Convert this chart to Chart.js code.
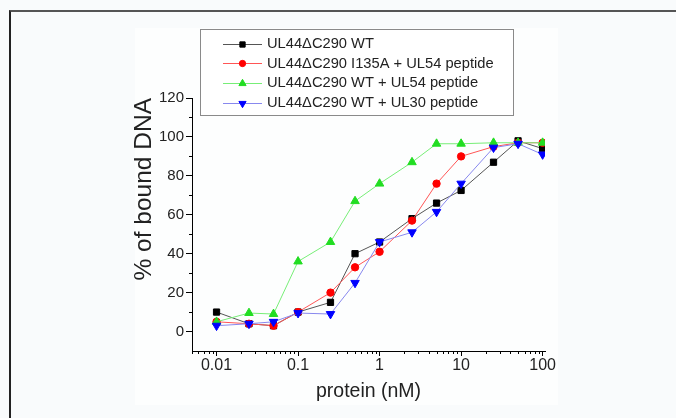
<!DOCTYPE html>
<html>
<head>
<meta charset="utf-8">
<script src="https://cdn.jsdelivr.net/npm/chart.js@4.4.1/dist/chart.umd.min.js"></script>
<style>
  html, body { margin: 0; padding: 0; }
  body { width: 676px; height: 418px; background: #f9fbfc; position: relative; overflow: hidden; }
  #frame { position: absolute; left: 9px; top: 10px; right: -4px; bottom: -4px; border-top: 2px solid #555; border-left: 2px solid #222; }
  #panel { position: absolute; left: 135px; top: 28px; width: 423px; height: 377px; background: #fdfefe; }
  #c { position: absolute; left: 0; top: 0; }
</style>
</head>
<body>
<div id="frame"></div>
<div id="panel"></div>
<canvas id="c" width="676" height="418"></canvas>
<script>
// ---- data ----
const doses = [0.01, 0.025, 0.05, 0.1, 0.25, 0.5, 1, 2.5, 5, 10, 25, 50, 100];
const seriesNames = [
  'UL44\u0394C290 WT',
  'UL44\u0394C290 I135A + UL54 peptide',
  'UL44\u0394C290 WT + UL54 peptide',
  'UL44\u0394C290 WT + UL30 peptide'
];
const wt        = [10, 4, 3, 10, 15, 40, 46, 58, 66, 72.5, 87, 98, 94];
const i135aUL54 = [5, 4, 3, 10, 20, 33, 41, 57, 76, 90, 95, 97, 97];
const wtUL54    = [5, 9.5, 9, 36, 46, 67, 76, 87, 96.5, 96.5, 97, 97, 97];
const wtUL30    = [3, 4, 5, 9.5, 9, 25, 46, 51, 61.5, 76, 94.5, 96.5, 91];
const xMajorTicks = [0.01, 0.1, 1, 10, 100];
const xTickLabels = ['0.01', '0.1', '1', '10', '100'];
const yMajorTicks = [0, 20, 40, 60, 80, 100, 120];
const yMinorTicks = [10, 30, 50, 70, 90, 110];
const xMinorTicks = [0.005, 0.006, 0.007, 0.008, 0.009,
  0.02, 0.03, 0.04, 0.05, 0.06, 0.07, 0.08, 0.09,
  0.2, 0.3, 0.4, 0.5, 0.6, 0.7, 0.8, 0.9,
  2, 3, 4, 5, 6, 7, 8, 9,
  20, 30, 40, 50, 60, 70, 80, 90];

const FONT = "'Liberation Sans', Arial, sans-serif";
const TXT = '#222';

const styles = [
  { line: '#555555', mark: '#000000', pointStyle: 'rect', radius: 4.4, rot: 0, order: 4 },
  { line: '#ff5555', mark: '#ff0000', pointStyle: 'circle', radius: 3.7, rot: 0, order: 3 },
  { line: '#77ee77', mark: '#22dd22', pointStyle: 'triangle', radius: 4.9, rot: 0, order: 2 },
  { line: '#8888ee', mark: '#0000ff', pointStyle: 'triangle', radius: 4.9, rot: 180, order: 1 }
];
const values = [wt, i135aUL54, wtUL54, wtUL30];

const datasets = values.map((vals, i) => ({
  label: seriesNames[i],
  data: doses.map((d, j) => ({ x: d, y: vals[j] })),
  borderColor: styles[i].line,
  borderWidth: 1,
  backgroundColor: styles[i].mark,
  pointBackgroundColor: styles[i].mark,
  pointBorderColor: styles[i].mark,
  pointBorderWidth: 1,
  pointStyle: styles[i].pointStyle,
  pointRadius: styles[i].radius,
  pointRotation: styles[i].rot,
  tension: 0,
  fill: false,
  order: styles[i].order
}));

const extrasPlugin = {
  id: 'extras',
  afterDraw(chart) {
    const ctx = chart.ctx;
    const xs = chart.scales.x, ys = chart.scales.y;
    const area = chart.chartArea;
    ctx.save();
    ctx.strokeStyle = '#000';
    ctx.lineWidth = 1;
    // minor ticks
    ctx.beginPath();
    xMinorTicks.forEach(v => {
      const px = Math.round(xs.getPixelForValue(v)) + 0.5;
      ctx.moveTo(px, area.bottom);
      ctx.lineTo(px, area.bottom + 3);
    });
    yMinorTicks.forEach(v => {
      const py = Math.round(ys.getPixelForValue(v)) + 0.5;
      ctx.moveTo(area.left - 3, py);
      ctx.lineTo(area.left, py);
    });
    ctx.stroke();

    // legend box
    const bx = 200.5, by = 29.5, bw = 313, bh = 86;
    ctx.fillStyle = '#ffffff';
    ctx.fillRect(bx, by, bw, bh);
    ctx.strokeStyle = '#8a8a8a';
    ctx.strokeRect(bx, by, bw, bh);
    ctx.font = '14.7px ' + FONT;
    ctx.textBaseline = 'middle';
    ctx.textAlign = 'left';
    chart.data.datasets.forEach((ds, i) => {
      const y = 43.5 + i * 19.7;
      ctx.strokeStyle = ds.borderColor;
      ctx.lineWidth = 1;
      ctx.beginPath();
      ctx.moveTo(223, Math.round(y) + 0.5);
      ctx.lineTo(262, Math.round(y) + 0.5);
      ctx.stroke();
      ctx.fillStyle = ds.pointBackgroundColor;
      ctx.strokeStyle = ds.pointBorderColor;
      Chart.helpers.drawPoint(ctx, {
        pointStyle: ds.pointStyle,
        radius: ds.pointRadius * 0.85,
        rotation: ds.pointRotation,
        borderWidth: 1
      }, 242.5, Math.round(y) + 0.5);
      ctx.fillStyle = TXT;
      ctx.fillText(ds.label, 267, y + 0.5);
    });
    ctx.restore();
  }
};

new Chart(document.getElementById('c'), {
  type: 'line',
  data: { datasets },
  plugins: [extrasPlugin],
  options: {
    responsive: false,
    animation: false,
    events: [],
    layout: { padding: { left: 120, right: 131, top: 98, bottom: 0 } },
    plugins: { legend: { display: false }, tooltip: { enabled: false }, title: { display: false } },
    scales: {
      x: {
        type: 'logarithmic',
        min: 0.005,
        max: 107,
        afterFit(scale) { scale.height = 67; },
        afterBuildTicks(scale) { scale.ticks = xMajorTicks.map(v => ({ value: v, major: true })); },
        grid: { display: true, drawOnChartArea: false, drawTicks: true, tickLength: 5, tickColor: '#000', tickWidth: 1 },
        border: { display: true, color: '#000', width: 1 },
        ticks: {
          autoSkip: false, maxRotation: 0, padding: 2,
          color: TXT,
          font: { family: FONT, size: 16, lineHeight: 1 },
          callback: (v) => { const k = xMajorTicks.indexOf(v); return k >= 0 ? xTickLabels[k] : ''; }
        },
        title: {
          display: true, text: 'protein (nM)', color: TXT,
          font: { family: FONT, size: 19.5, lineHeight: 1.2 },
          padding: { top: 0, bottom: 15 }
        }
      },
      y: {
        type: 'linear',
        min: -10,
        max: 120,
        afterFit(scale) { scale.width = 72; },
        afterBuildTicks(scale) { scale.ticks = yMajorTicks.map(v => ({ value: v })); },
        grid: { display: true, drawOnChartArea: false, drawTicks: true, tickLength: 6, tickColor: '#000', tickWidth: 1 },
        border: { display: true, color: '#000', width: 1 },
        ticks: {
          padding: 2, color: TXT,
          font: { family: FONT, size: 15 },
          callback: (v) => String(v)
        },
        title: {
          display: true, text: '% of bound DNA', color: TXT, align: 'end',
          font: { family: FONT, size: 24.5, lineHeight: 1.2 },
          padding: { top: 10, bottom: 0 }
        }
      }
    }
  }
});
</script>
</body>
</html>
